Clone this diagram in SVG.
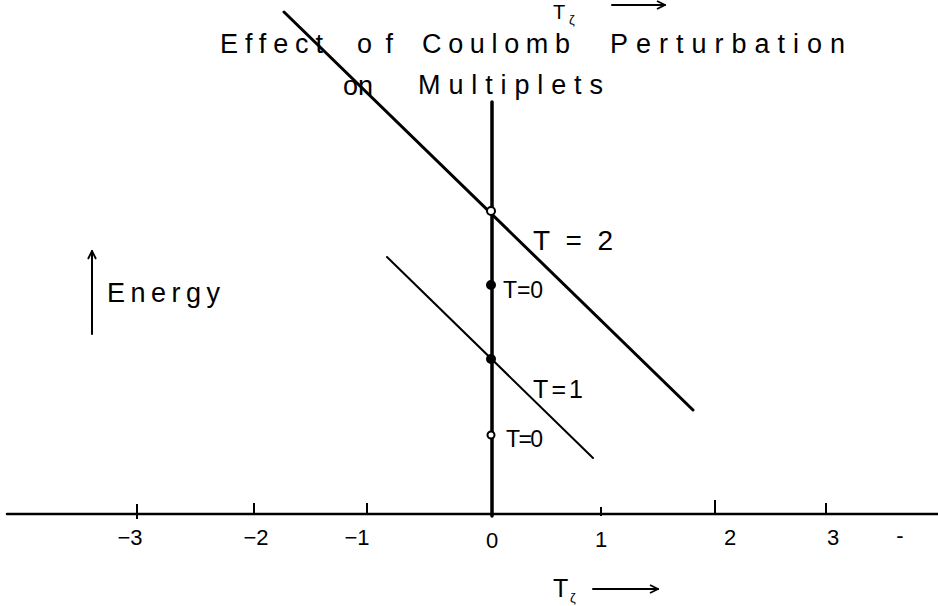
<svg xmlns="http://www.w3.org/2000/svg" width="938" height="606" viewBox="0 0 938 606">
<style>
text{font-family:"Liberation Sans","DejaVu Sans",sans-serif;fill:#000}
.t{font-size:27px}
.lab{font-size:23px}
.tick{font-size:22px;text-anchor:middle}
.ln{stroke:#000;fill:none;stroke-linecap:round}
.dot{stroke:#000;stroke-width:2}
</style>
<defs>
<marker id="ah" viewBox="0 0 10 10" refX="9" refY="5" markerWidth="10" markerHeight="10" markerUnits="userSpaceOnUse" orient="auto">
<path d="M1,1 L9,5 L1,9" fill="none" stroke="#000" stroke-width="1.8"/>
</marker>
</defs>
<rect width="938" height="606" fill="#fff"/>

<g id="title">
<text class="t" x="220" y="53" textLength="103" lengthAdjust="spacing">Effect</text>
<text class="t" x="357" y="53" textLength="36" lengthAdjust="spacing">of</text>
<text class="t" x="422" y="53" textLength="148" lengthAdjust="spacing">Coulomb</text>
<text class="t" x="610" y="53" textLength="235" lengthAdjust="spacing">Perturbation</text>
<text class="t" x="343" y="95" textLength="30" lengthAdjust="spacing">on</text>
<text class="t" x="418" y="94" textLength="185" lengthAdjust="spacing">Multiplets</text>
</g>

<g id="top-axis-label">
<text x="553" y="19" style="font-size:20px">T</text>
<text x="569" y="24" style="font-size:13px">ζ</text>
</g>

<g id="connectors">
<line class="ln" x1="492" y1="102" x2="492" y2="516" stroke-width="3.5"/>
<line class="ln" x1="7" y1="514" x2="938" y2="514" stroke-width="2.5"/>
<line class="ln" x1="284" y1="12" x2="693" y2="410" stroke-width="3"/>
<line class="ln" x1="387" y1="257" x2="593" y2="458" stroke-width="2"/>
<line class="ln" x1="612" y1="5" x2="665" y2="5" stroke-width="2" marker-end="url(#ah)"/>
<line class="ln" x1="593" y1="589" x2="658" y2="589" stroke-width="2" marker-end="url(#ah)"/>
<line class="ln" x1="92" y1="334" x2="92" y2="251" stroke-width="2" marker-end="url(#ah)"/>
<g stroke="#000" stroke-width="2">
<line x1="137" y1="504" x2="137" y2="519"/>
<line x1="254" y1="503" x2="254" y2="514"/>
<line x1="367" y1="503" x2="367" y2="514"/>
<line x1="601" y1="507" x2="601" y2="516"/>
<line x1="715" y1="500" x2="715" y2="514"/>
<line x1="826" y1="503" x2="826" y2="514"/>
</g>
</g>

<g id="ticks-labels">
<text class="tick" x="130" y="545">−3</text>
<text class="tick" x="256" y="545">−2</text>
<text class="tick" x="357" y="545">−1</text>
<text class="tick" x="492" y="548">0</text>
<text class="tick" x="601" y="547">1</text>
<text class="tick" x="730" y="545">2</text>
<text class="tick" x="833" y="545">3</text>
<text class="tick" x="900" y="543">-</text>
</g>

<g id="bottom-axis-label">
<text x="553" y="597" style="font-size:25px">T</text>
<text x="570" y="602" style="font-size:13px">ζ</text>
</g>

<g id="energy">
<text x="107" y="302" style="font-size:27px" textLength="113" lengthAdjust="spacing">Energy</text>
</g>

<g id="level-T2">
<circle class="dot" cx="491" cy="211" r="4" fill="#fff"/>
<text class="lab" x="533" y="250" style="font-size:28px" textLength="80" lengthAdjust="spacing">T=2</text>
</g>
<g id="level-T0-upper">
<circle class="dot" cx="491" cy="285" r="4" fill="#000"/>
<text class="lab" x="503" y="298" textLength="40" lengthAdjust="spacing">T=0</text>
</g>
<g id="level-T1">
<circle class="dot" cx="491" cy="359" r="4" fill="#000"/>
<text class="lab" x="533" y="398" style="font-size:25px" textLength="50" lengthAdjust="spacing">T=1</text>
</g>
<g id="level-T0-lower">
<circle class="dot" cx="491" cy="435" r="3.5" fill="#fff"/>
<text class="lab" x="506" y="447" textLength="37" lengthAdjust="spacing">T=0</text>
</g>
</svg>
